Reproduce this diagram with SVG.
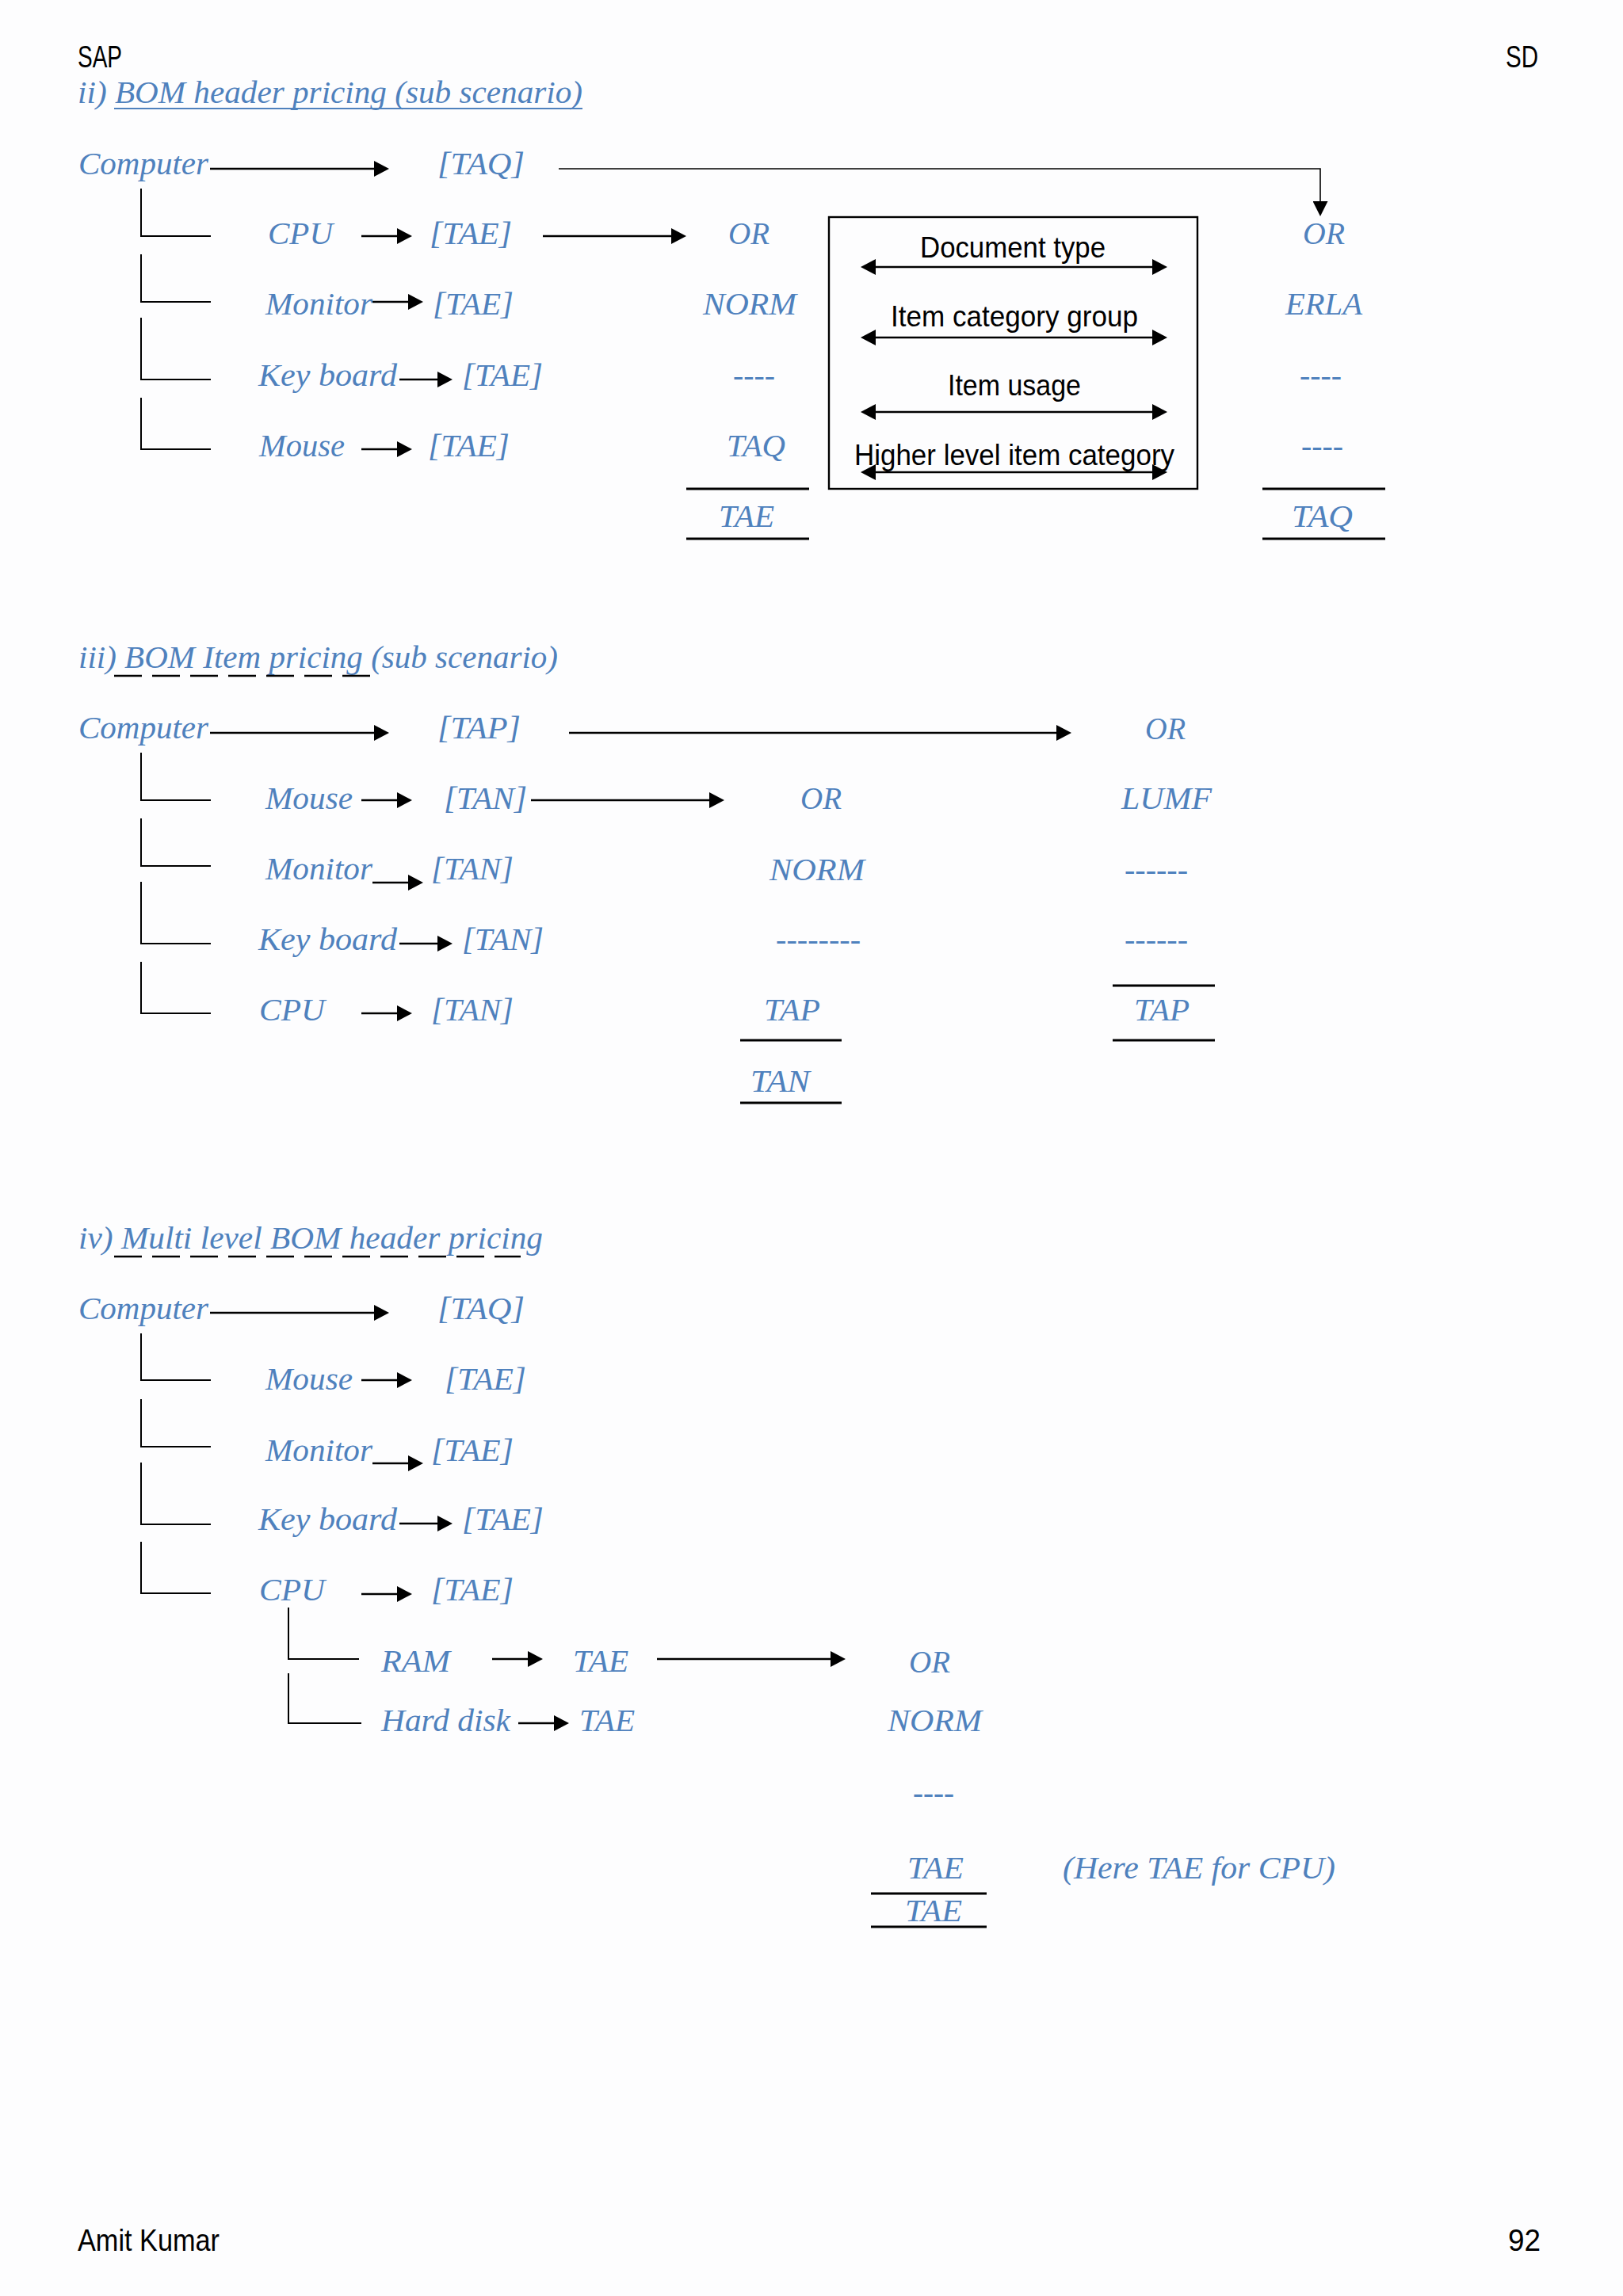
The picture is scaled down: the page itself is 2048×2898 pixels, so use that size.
<svg xmlns="http://www.w3.org/2000/svg" width="2048" height="2898" viewBox="0 0 2048 2898">
<style>
.t{font-family:"Liberation Serif","Times New Roman",serif;font-style:italic;font-size:40px;fill:#4f81bd}
.s{font-family:"Liberation Sans",Arial,sans-serif;font-size:36px;fill:#000}
.h{font-family:"Liberation Sans",Arial,sans-serif;font-size:39px;fill:#000}
.ln{stroke:#000;stroke-width:2;fill:none}
.ar{stroke:#000;stroke-width:2.4;fill:none;marker-end:url(#ah)}
.da{stroke:#000;stroke-width:2.4;fill:none;marker-end:url(#ah);marker-start:url(#ah)}
.thin{stroke:#000;stroke-width:1.6;fill:none;marker-end:url(#ah2)}
.sum{stroke:#000;stroke-width:3}
.dash{stroke:#000;stroke-width:2.4;stroke-dasharray:35 13}
</style>
<defs>
<marker id="ah" markerUnits="userSpaceOnUse" markerWidth="19" markerHeight="20" refX="14" refY="10" orient="auto-start-reverse"><path d="M0,0 L19,10 L0,20 Z" fill="#000"/></marker>
<marker id="ah2" markerUnits="userSpaceOnUse" markerWidth="19" markerHeight="19" refX="15" refY="9.5" orient="auto"><path d="M0,0 L19,9.5 L0,19 Z" fill="#000"/></marker>
</defs>
<rect width="2048" height="2898" fill="#fdfdfe"/>

<g id="header">
<text class="h" x="98" y="85" textLength="56" lengthAdjust="spacingAndGlyphs">SAP</text>
<text class="h" x="1900" y="85" textLength="41" lengthAdjust="spacingAndGlyphs">SD</text>
</g>
<g id="footer">
<text class="h" x="98" y="2841" textLength="179" lengthAdjust="spacingAndGlyphs">Amit Kumar</text>
<text class="h" x="1903" y="2841" textLength="41" lengthAdjust="spacingAndGlyphs">92</text>
</g>

<!-- Section ii -->
<g id="title-ii">
<text class="t" x="98" y="130" textLength="637" lengthAdjust="spacingAndGlyphs">ii) BOM header pricing (sub scenario)</text>
<line x1="144" y1="137" x2="735" y2="137" stroke="#4f81bd" stroke-width="2"/>
</g>
<g id="ii-computer"><text class="t" x="99" y="220" textLength="164" lengthAdjust="spacingAndGlyphs">Computer</text></g>
<g id="ii-taq"><text class="t" x="552" y="220" textLength="110" lengthAdjust="spacingAndGlyphs">[TAQ]</text></g>
<g id="ii-cpu"><text class="t" x="338" y="308" textLength="82" lengthAdjust="spacingAndGlyphs">CPU</text></g>
<g id="ii-cpu-tae"><text class="t" x="542" y="308" textLength="104" lengthAdjust="spacingAndGlyphs">[TAE]</text></g>
<g id="ii-or"><text class="t" x="919" y="308" textLength="52" lengthAdjust="spacingAndGlyphs">OR</text></g>
<g id="ii-monitor"><text class="t" x="335" y="397" textLength="135" lengthAdjust="spacingAndGlyphs">Monitor</text></g>
<g id="ii-monitor-tae"><text class="t" x="546" y="397" textLength="102" lengthAdjust="spacingAndGlyphs">[TAE]</text></g>
<g id="ii-norm"><text class="t" x="887" y="397" textLength="118" lengthAdjust="spacingAndGlyphs">NORM</text></g>
<g id="ii-keyboard"><text class="t" x="326" y="487" textLength="175" lengthAdjust="spacingAndGlyphs">Key board</text></g>
<g id="ii-keyboard-tae"><text class="t" x="583" y="487" textLength="102" lengthAdjust="spacingAndGlyphs">[TAE]</text></g>
<g id="ii-dash1"><text class="t" x="925" y="487" textLength="53" lengthAdjust="spacingAndGlyphs">----</text></g>
<g id="ii-mouse"><text class="t" x="327" y="576" textLength="108" lengthAdjust="spacingAndGlyphs">Mouse</text></g>
<g id="ii-mouse-tae"><text class="t" x="540" y="576" textLength="103" lengthAdjust="spacingAndGlyphs">[TAE]</text></g>
<g id="ii-taq2"><text class="t" x="917" y="576" textLength="74" lengthAdjust="spacingAndGlyphs">TAQ</text></g>
<g id="ii-tae"><text class="t" x="907" y="665" textLength="70" lengthAdjust="spacingAndGlyphs">TAE</text></g>
<g id="ii-r-or"><text class="t" x="1644" y="308" textLength="53" lengthAdjust="spacingAndGlyphs">OR</text></g>
<g id="ii-r-erla"><text class="t" x="1622" y="397" textLength="97" lengthAdjust="spacingAndGlyphs">ERLA</text></g>
<g id="ii-r-dash1"><text class="t" x="1640" y="487" textLength="53" lengthAdjust="spacingAndGlyphs">----</text></g>
<g id="ii-r-dash2"><text class="t" x="1642" y="576" textLength="53" lengthAdjust="spacingAndGlyphs">----</text></g>
<g id="ii-r-taq"><text class="t" x="1630" y="665" textLength="77" lengthAdjust="spacingAndGlyphs">TAQ</text></g>
<g id="ii-box">
<rect x="1046" y="274" width="465" height="343" fill="none" stroke="#000" stroke-width="2.4"/>
<text class="s" x="1161" y="325" textLength="234" lengthAdjust="spacingAndGlyphs">Document type</text>
<text class="s" x="1124" y="412" textLength="312" lengthAdjust="spacingAndGlyphs">Item category group</text>
<text class="s" x="1196" y="499" textLength="168" lengthAdjust="spacingAndGlyphs">Item usage</text>
<text class="s" x="1078" y="587" textLength="404" lengthAdjust="spacingAndGlyphs">Higher level item category</text>
</g>

<!-- Section iii -->
<g id="title-iii">
<text class="t" x="99" y="843" textLength="605" lengthAdjust="spacingAndGlyphs">iii) BOM Item pricing (sub scenario)</text>
</g>
<g id="iii-computer"><text class="t" x="99" y="932" textLength="164" lengthAdjust="spacingAndGlyphs">Computer</text></g>
<g id="iii-tap"><text class="t" x="552" y="932" textLength="105" lengthAdjust="spacingAndGlyphs">[TAP]</text></g>
<g id="iii-r-or"><text class="t" x="1445" y="933" textLength="51" lengthAdjust="spacingAndGlyphs">OR</text></g>
<g id="iii-mouse"><text class="t" x="335" y="1021" textLength="110" lengthAdjust="spacingAndGlyphs">Mouse</text></g>
<g id="iii-mouse-tan"><text class="t" x="560" y="1021" textLength="105" lengthAdjust="spacingAndGlyphs">[TAN]</text></g>
<g id="iii-or"><text class="t" x="1010" y="1021" textLength="52" lengthAdjust="spacingAndGlyphs">OR</text></g>
<g id="iii-r-lumf"><text class="t" x="1415" y="1021" textLength="114" lengthAdjust="spacingAndGlyphs">LUMF</text></g>
<g id="iii-monitor"><text class="t" x="335" y="1110" textLength="135" lengthAdjust="spacingAndGlyphs">Monitor</text></g>
<g id="iii-monitor-tan"><text class="t" x="544" y="1110" textLength="104" lengthAdjust="spacingAndGlyphs">[TAN]</text></g>
<g id="iii-norm"><text class="t" x="971" y="1111" textLength="120" lengthAdjust="spacingAndGlyphs">NORM</text></g>
<g id="iii-r-dash1"><text class="t" x="1419" y="1111" textLength="80" lengthAdjust="spacingAndGlyphs">------</text></g>
<g id="iii-keyboard"><text class="t" x="326" y="1199" textLength="175" lengthAdjust="spacingAndGlyphs">Key board</text></g>
<g id="iii-keyboard-tan"><text class="t" x="583" y="1199" textLength="103" lengthAdjust="spacingAndGlyphs">[TAN]</text></g>
<g id="iii-dash"><text class="t" x="979" y="1199" textLength="107" lengthAdjust="spacingAndGlyphs">--------</text></g>
<g id="iii-r-dash2"><text class="t" x="1419" y="1199" textLength="80" lengthAdjust="spacingAndGlyphs">------</text></g>
<g id="iii-cpu"><text class="t" x="327" y="1288" textLength="83" lengthAdjust="spacingAndGlyphs">CPU</text></g>
<g id="iii-cpu-tan"><text class="t" x="544" y="1288" textLength="104" lengthAdjust="spacingAndGlyphs">[TAN]</text></g>
<g id="iii-tap2"><text class="t" x="964" y="1288" textLength="71" lengthAdjust="spacingAndGlyphs">TAP</text></g>
<g id="iii-r-tap"><text class="t" x="1431" y="1288" textLength="70" lengthAdjust="spacingAndGlyphs">TAP</text></g>
<g id="iii-tan"><text class="t" x="947" y="1378" textLength="75" lengthAdjust="spacingAndGlyphs">TAN</text></g>

<!-- Section iv -->
<g id="title-iv">
<text class="t" x="99" y="1576" textLength="586" lengthAdjust="spacingAndGlyphs">iv) Multi level BOM header pricing</text>
</g>
<g id="iv-computer"><text class="t" x="99" y="1665" textLength="164" lengthAdjust="spacingAndGlyphs">Computer</text></g>
<g id="iv-taq"><text class="t" x="552" y="1665" textLength="110" lengthAdjust="spacingAndGlyphs">[TAQ]</text></g>
<g id="iv-mouse"><text class="t" x="335" y="1754" textLength="110" lengthAdjust="spacingAndGlyphs">Mouse</text></g>
<g id="iv-mouse-tae"><text class="t" x="561" y="1754" textLength="103" lengthAdjust="spacingAndGlyphs">[TAE]</text></g>
<g id="iv-monitor"><text class="t" x="335" y="1844" textLength="135" lengthAdjust="spacingAndGlyphs">Monitor</text></g>
<g id="iv-monitor-tae"><text class="t" x="544" y="1844" textLength="104" lengthAdjust="spacingAndGlyphs">[TAE]</text></g>
<g id="iv-keyboard"><text class="t" x="326" y="1931" textLength="175" lengthAdjust="spacingAndGlyphs">Key board</text></g>
<g id="iv-keyboard-tae"><text class="t" x="583" y="1931" textLength="103" lengthAdjust="spacingAndGlyphs">[TAE]</text></g>
<g id="iv-cpu"><text class="t" x="327" y="2020" textLength="83" lengthAdjust="spacingAndGlyphs">CPU</text></g>
<g id="iv-cpu-tae"><text class="t" x="544" y="2020" textLength="104" lengthAdjust="spacingAndGlyphs">[TAE]</text></g>
<g id="iv-ram"><text class="t" x="481" y="2110" textLength="87" lengthAdjust="spacingAndGlyphs">RAM</text></g>
<g id="iv-ram-tae"><text class="t" x="723" y="2110" textLength="70" lengthAdjust="spacingAndGlyphs">TAE</text></g>
<g id="iv-or"><text class="t" x="1147" y="2111" textLength="52" lengthAdjust="spacingAndGlyphs">OR</text></g>
<g id="iv-harddisk"><text class="t" x="481" y="2185" textLength="163" lengthAdjust="spacingAndGlyphs">Hard disk</text></g>
<g id="iv-harddisk-tae"><text class="t" x="731" y="2185" textLength="70" lengthAdjust="spacingAndGlyphs">TAE</text></g>
<g id="iv-norm"><text class="t" x="1120" y="2185" textLength="119" lengthAdjust="spacingAndGlyphs">NORM</text></g>
<g id="iv-dash"><text class="t" x="1152" y="2276" textLength="52" lengthAdjust="spacingAndGlyphs">----</text></g>
<g id="iv-tae1"><text class="t" x="1145" y="2371" textLength="71" lengthAdjust="spacingAndGlyphs">TAE</text></g>
<g id="iv-note"><text class="t" x="1341" y="2371" textLength="344" lengthAdjust="spacingAndGlyphs">(Here TAE for CPU)</text></g>
<g id="iv-tae2"><text class="t" x="1142" y="2425" textLength="72" lengthAdjust="spacingAndGlyphs">TAE</text></g>

<g id="connectors">
<!-- ii -->
<line class="ar" x1="265" y1="213" x2="486" y2="213"/>
<path class="thin" d="M705,213 H1666 V269"/>
<path class="ln" d="M178,238 V298 H266 M178,321 V381 H266 M178,401 V479 H266 M178,502 V567 H266"/>
<line class="ar" x1="456" y1="298" x2="515" y2="298"/>
<line class="ar" x1="685" y1="298" x2="861" y2="298"/>
<line class="ar" x1="470" y1="381" x2="529" y2="381"/>
<line class="ar" x1="504" y1="479" x2="566" y2="479"/>
<line class="ar" x1="456" y1="567" x2="515" y2="567"/>
<line class="sum" x1="866" y1="617" x2="1021" y2="617"/>
<line class="sum" x1="866" y1="680" x2="1021" y2="680"/>
<line class="sum" x1="1593" y1="617" x2="1748" y2="617"/>
<line class="sum" x1="1593" y1="680" x2="1748" y2="680"/>
<line class="da" x1="1091" y1="337" x2="1468" y2="337"/>
<line class="da" x1="1091" y1="426" x2="1468" y2="426"/>
<line class="da" x1="1091" y1="520" x2="1468" y2="520"/>
<line class="da" x1="1091" y1="596" x2="1468" y2="596"/>
<!-- iii -->
<line class="dash" x1="144" y1="853" x2="470" y2="853"/>
<line class="ar" x1="265" y1="925" x2="486" y2="925"/>
<line class="ar" x1="718" y1="925" x2="1347" y2="925"/>
<path class="ln" d="M178,950 V1010 H266 M178,1033 V1093 H266 M178,1113 V1191 H266 M178,1214 V1279 H266"/>
<line class="ar" x1="456" y1="1010" x2="515" y2="1010"/>
<line class="ar" x1="670" y1="1010" x2="909" y2="1010"/>
<line class="ar" x1="470" y1="1114" x2="529" y2="1114"/>
<line class="ar" x1="504" y1="1191" x2="566" y2="1191"/>
<line class="ar" x1="456" y1="1279" x2="515" y2="1279"/>
<line class="sum" x1="1404" y1="1244" x2="1533" y2="1244"/>
<line class="sum" x1="934" y1="1313" x2="1062" y2="1313"/>
<line class="sum" x1="1404" y1="1313" x2="1533" y2="1313"/>
<line class="sum" x1="934" y1="1392" x2="1062" y2="1392"/>
<!-- iv -->
<line class="dash" x1="144" y1="1586" x2="657" y2="1586"/>
<line class="ar" x1="265" y1="1657" x2="486" y2="1657"/>
<path class="ln" d="M178,1683 V1742 H266 M178,1766 V1826 H266 M178,1846 V1924 H266 M178,1946 V2011 H266"/>
<line class="ar" x1="456" y1="1742" x2="515" y2="1742"/>
<line class="ar" x1="470" y1="1847" x2="529" y2="1847"/>
<line class="ar" x1="504" y1="1923" x2="566" y2="1923"/>
<line class="ar" x1="456" y1="2012" x2="515" y2="2012"/>
<path class="ln" d="M364,2029 V2094 H453 M364,2112 V2175 H456"/>
<line class="ar" x1="621" y1="2094" x2="680" y2="2094"/>
<line class="ar" x1="829" y1="2094" x2="1062" y2="2094"/>
<line class="ar" x1="654" y1="2175" x2="713" y2="2175"/>
<line class="sum" x1="1099" y1="2390" x2="1245" y2="2390"/>
<line class="sum" x1="1099" y1="2432" x2="1245" y2="2432"/>
</g>
</svg>
